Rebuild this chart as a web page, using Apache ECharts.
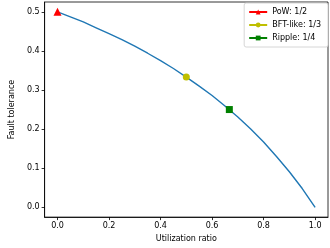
<!DOCTYPE html>
<html><head><meta charset="utf-8">
<script src="https://cdn.jsdelivr.net/npm/echarts@6/dist/echarts.min.js"></script>
<style>html,body{margin:0;padding:0;background:#fff}#c{width:330px;height:248px}</style>
</head><body><div id="c"></div>
<script>
const utilization = [0,0.05,0.1,0.15,0.2,0.25,0.3,0.35,0.4,0.45,0.5,0.55,0.6,0.65,0.7,0.75,0.8,0.85,0.9,0.95,1.0];
const tolerance = [0.5,0.487,0.474,0.459,0.444,0.429,0.412,0.394,0.375,0.355,0.333,0.310,0.286,0.259,0.231,0.2,0.167,0.130,0.091,0.048,0];
const xTicks = [0,0.2,0.4,0.6,0.8,1.0];
const yTicks = [0,0.1,0.2,0.3,0.4,0.5];
const pointNames = ['PoW: 1/2','BFT-like: 1/3','Ripple: 1/4'];
const pointX = [0, 0.5, 0.667];
const pointY = [0.5, 0.333, 0.25];
const pointColors = ['#ff0000','#bfbf00','#008000'];
const pointSymbols = ['triangle','circle','rect'];
const pointSizes = [8,7,7];

const font = 'DejaVu Sans';
const fs = 8;
const chart = echarts.init(document.getElementById('c'));
const series = [{
  type:'line', name:'curve', data: utilization.map((u,i)=>[u,tolerance[i]]),
  showSymbol:false, symbol:'none', smooth:false,
  lineStyle:{color:'#1f77b4', width:1.4}, z:2, silent:true
}];
pointNames.forEach((n,i)=>{
  series.push({type:'line', name:n, data:[[pointX[i],pointY[i]]],
    symbol:pointSymbols[i], symbolSize:pointSizes[i], showSymbol:true,
    itemStyle:{color:pointColors[i]}, lineStyle:{color:pointColors[i], width:1.4}, z:3});
});
chart.setOption({
  animation:false,
  grid:{left:31, right:2, top:2, bottom:24, show:true, borderColor:'#000', borderWidth:0.8, backgroundColor:'transparent'},
  xAxis:{type:'value', min:-0.05, max:1.05,
    name:'Utilization ratio', nameLocation:'middle', nameGap:17,
    nameTextStyle:{fontFamily:font, fontSize:fs, color:'#000'},
    axisLine:{show:true, onZero:false, lineStyle:{color:'#000', width:0.8}},
    axisTick:{show:true, length:3, customValues:xTicks, lineStyle:{color:'#000', width:0.8}},
    axisLabel:{fontFamily:font, fontSize:fs, color:'#000', margin:5, customValues:xTicks,
      formatter:v=>v.toFixed(1)},
    splitLine:{show:false}},
  yAxis:{type:'value', min:-0.025, max:0.525,
    name:'Fault tolerance', nameLocation:'middle', nameGap:24, nameRotate:90,
    nameTextStyle:{fontFamily:font, fontSize:fs, color:'#000'},
    axisLine:{show:true, onZero:false, lineStyle:{color:'#000', width:0.8}},
    axisTick:{show:true, length:3, customValues:yTicks, lineStyle:{color:'#000', width:0.8}},
    axisLabel:{fontFamily:font, fontSize:fs, color:'#000', margin:5, customValues:yTicks,
      formatter:v=>v.toFixed(1)},
    splitLine:{show:false}},
  legend:{data:pointNames, orient:'vertical', right:2, top:3,
    itemWidth:18, itemHeight:6, itemGap:5,
    padding:[5,7,5,4],
    backgroundColor:'#fff', borderColor:'#ccc', borderWidth:0.8, borderRadius:2,
    textStyle:{fontFamily:font, fontSize:fs, color:'#000'}},
  series:series
});
</script>
</body></html>
